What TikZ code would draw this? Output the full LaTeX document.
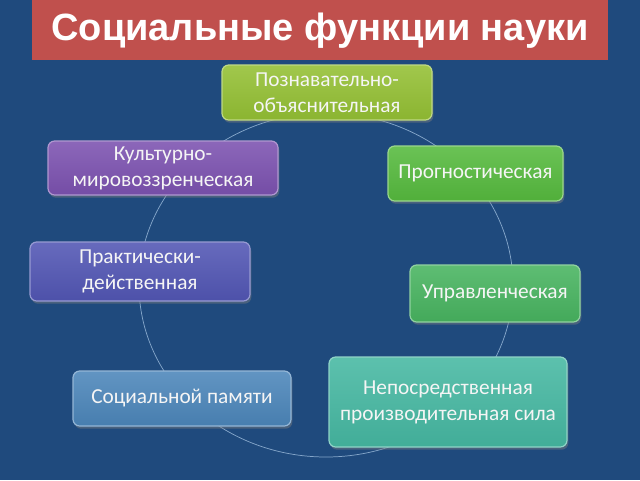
\documentclass[tikz,border=0pt]{standalone}
\usepackage{fontspec}
\setmainfont{Carlito}
\newfontfamily\titlefont{Liberation Sans}
\usetikzlibrary{shadows}
\definecolor{bgblue}{RGB}{31,74,125}
\definecolor{titlered}{RGB}{192,80,77}
\definecolor{cA}{RGB}{148,192,52}
\definecolor{cB}{RGB}{86,186,62}
\definecolor{cC}{RGB}{72,180,96}
\definecolor{cD}{RGB}{70,184,162}
\definecolor{cE}{RGB}{76,134,186}
\definecolor{cF}{RGB}{82,86,180}
\definecolor{cG}{RGB}{124,82,176}
\definecolor{ringc}{RGB}{150,182,215}
\tikzset{
  fbox/.style={rectangle, rounded corners=5pt, align=center, text=white!96!black,
    font=\fontsize{16}{19.5}\selectfont, inner sep=2pt,
    top color=#1!88!white, bottom color=#1!94!black, draw=#1!60!white, line width=0.9pt,
    drop shadow={opacity=0.45, shadow xshift=1pt, shadow yshift=-2pt}},
  ring/.style={draw=ringc, line width=0.55pt, opacity=0.85}
}
\begin{document}
\begin{tikzpicture}[x=0.75pt, y=-0.75pt]
\fill[bgblue] (0,0) rectangle (640,480);
\useasboundingbox (0,0) rectangle (640,480);
\fill[titlered] (32,0) rectangle (608,60);
\node[text=white, font=\titlefont\bfseries\fontsize{28.5}{32}\selectfont] (title) at (320,31) {Социальные функции науки};
% cycle ring
\coordinate (ctr) at (326,285);
\draw[ring] (ctr) ellipse [x radius=140.25pt, y radius=129pt];
% boxes
\node[fbox=cA, minimum width=157.5pt, minimum height=41.25pt] (b1) at (327,92.5) {Познавательно-\\объяснительная};
\node[fbox=cB, minimum width=131.25pt, minimum height=41.25pt] (b2) at (475.5,173.5) {Прогностическая};
\node[fbox=cC, minimum width=127.5pt, minimum height=42.75pt] (b3) at (495,293.5) {Управленческая};
\node[fbox=cD, minimum width=178.5pt, minimum height=67.5pt] (b4) at (448,402) {Непосредственная\\производительная сила};
\node[fbox=cE, minimum width=163.5pt, minimum height=41.25pt] (b5) at (182,398.5) {Социальной памяти};
\node[fbox=cF, minimum width=165pt, minimum height=44.25pt] (b6) at (140,271.5) {Практически-\\действенная};
\node[fbox=cG, minimum width=172.5pt, minimum height=40.5pt] (b7) at (163,168) {Культурно-\\мировоззренческая};
\end{tikzpicture}
\end{document}
